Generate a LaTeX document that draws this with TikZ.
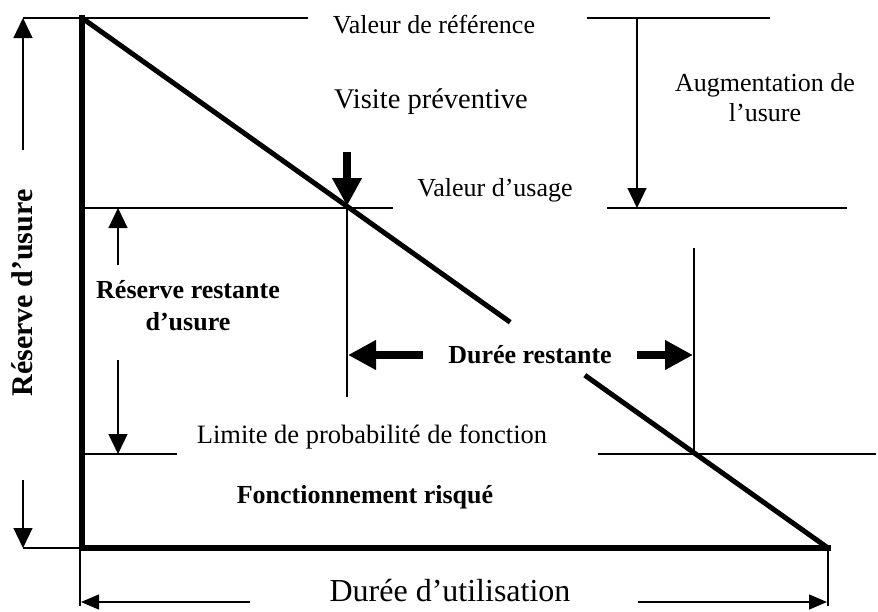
\documentclass[tikz,border=0pt]{standalone}
\usepackage{fontspec}
\setmainfont{Liberation Serif}
\usetikzlibrary{arrows.meta,calc}
\tikzset{
  thinline/.style={line width=1.2pt},
  axisline/.style={line width=6pt},
  wearline/.style={line width=5pt},
  lbl/.style={inner sep=0pt, font=\fontsize{26}{30}\selectfont},
  blbl/.style={inner sep=0pt, font=\fontsize{26}{32}\selectfont\bfseries},
  tiparrow/.style={thinline, -{Triangle[length=20pt,width=19pt]}},
  flatarrow/.style={thinline, -{Triangle[length=18pt,width=15pt]}},
  fatarrow/.style={line width=8pt, -{Triangle[length=28pt,width=28pt]}},
}
\begin{document}
\begin{tikzpicture}[x=1pt,y=-1pt]
\useasboundingbox (0,0) rectangle (878,611);

% key points of the wear curve
\coordinate (T) at (82,18);
\coordinate (O) at (82,548);
\coordinate (E) at (828,548);

% axes
\draw[axisline, line join=miter] (82,15) -- (O) -- (831,548);
% wear line, interrupted around the label
\draw[wearline] (T) -- ($(T)!0.574!(E)$);
\draw[wearline] ($(T)!0.674!(E)$) -- (E);

% reference levels
\coordinate (r1) at (23,18);   \coordinate (r2) at (308,18);
\coordinate (r3) at (587,18);  \coordinate (r4) at (770,18);
\draw[thinline] (r1) -- (r2) (r3) -- (r4);
\coordinate (u1) at (82,208);  \coordinate (u2) at (393,208);
\coordinate (u3) at (607,208); \coordinate (u4) at (847,208);
\draw[thinline] (u1) -- (u2) (u3) -- (u4);
\coordinate (l1) at (82,454);  \coordinate (l2) at (177,454);
\coordinate (l3) at (598,454); \coordinate (l4) at (876,454);
\draw[thinline] (l1) -- (l2) (l3) -- (l4);

% vertical markers
\coordinate (v1) at (347,200); \coordinate (v2) at (347,397);
\draw[thinline] (v1) -- (v2);
\coordinate (w1) at (694,248); \coordinate (w2) at (694,454);
\draw[thinline] (w1) -- (w2);
\coordinate (k1) at (23,548);
\draw[thinline] (k1) -- (O);
\coordinate (b1) at (80,548);  \coordinate (b2) at (80,606);
\coordinate (b3) at (828,548); \coordinate (b4) at (828,606);
\draw[thinline] (b1) -- (b2) (b3) -- (b4);

% wear reserve arrows
\coordinate (a1) at (23,150); \coordinate (a2) at (23,480);
\draw[tiparrow] (a1) -- (r1);
\draw[tiparrow] (a2) -- (k1);
\coordinate (c1) at (118,265); \coordinate (c2) at (118,208);
\coordinate (c3) at (118,360); \coordinate (c4) at (118,454);
\draw[tiparrow] (c1) -- (c2);
\draw[tiparrow] (c3) -- (c4);
\coordinate (g1) at (637,18); \coordinate (g2) at (637,208);
\draw[tiparrow] (g1) -- (g2);

% preventive visit and remaining life
\coordinate (p1) at (347,152); \coordinate (p2) at (347,206);
\draw[fatarrow] (p1) -- (p2);
\coordinate (d1) at (423,355); \coordinate (d2) at (348,355);
\coordinate (d3) at (637,355); \coordinate (d4) at (693,355);
\draw[fatarrow] (d1) -- (d2);
\draw[fatarrow] (d3) -- (d4);

% service life
\coordinate (s1) at (250,602); \coordinate (s2) at (81,602);
\coordinate (s3) at (638,602); \coordinate (s4) at (827,602);
\draw[flatarrow] (s1) -- (s2);
\draw[flatarrow] (s3) -- (s4);

% labels
\node[lbl] (ref) at (434,25) {Valeur de référence};
\node[inner sep=0pt, font=\fontsize{28.5}{32}\selectfont] (visit) at (431,102) {Visite préventive};
\node[lbl] (use) at (495,190) {Valeur d’usage};
\node[lbl, align=center] (aug) at (765,98) {Augmentation de\\l’usure};
\node[blbl, align=center] (rest) at (188,306) {Réserve restante\\d’usure};
\node[blbl] (dr) at (530,355) {Durée restante};
\node[inner sep=0pt, font=\fontsize{26.5}{30}\selectfont] (lim) at (372,437) {Limite de probabilité de fonction};
\node[blbl] (risk) at (365,497) {Fonctionnement risqué};
\node[inner sep=0pt, font=\fontsize{32}{36}\selectfont] (life) at (450,591) {Durée d’utilisation};
\node[inner sep=0pt, rotate=90, font=\fontsize{30}{36}\selectfont\bfseries] (res) at (22,293) {Réserve d’usure};
\end{tikzpicture}
\end{document}
